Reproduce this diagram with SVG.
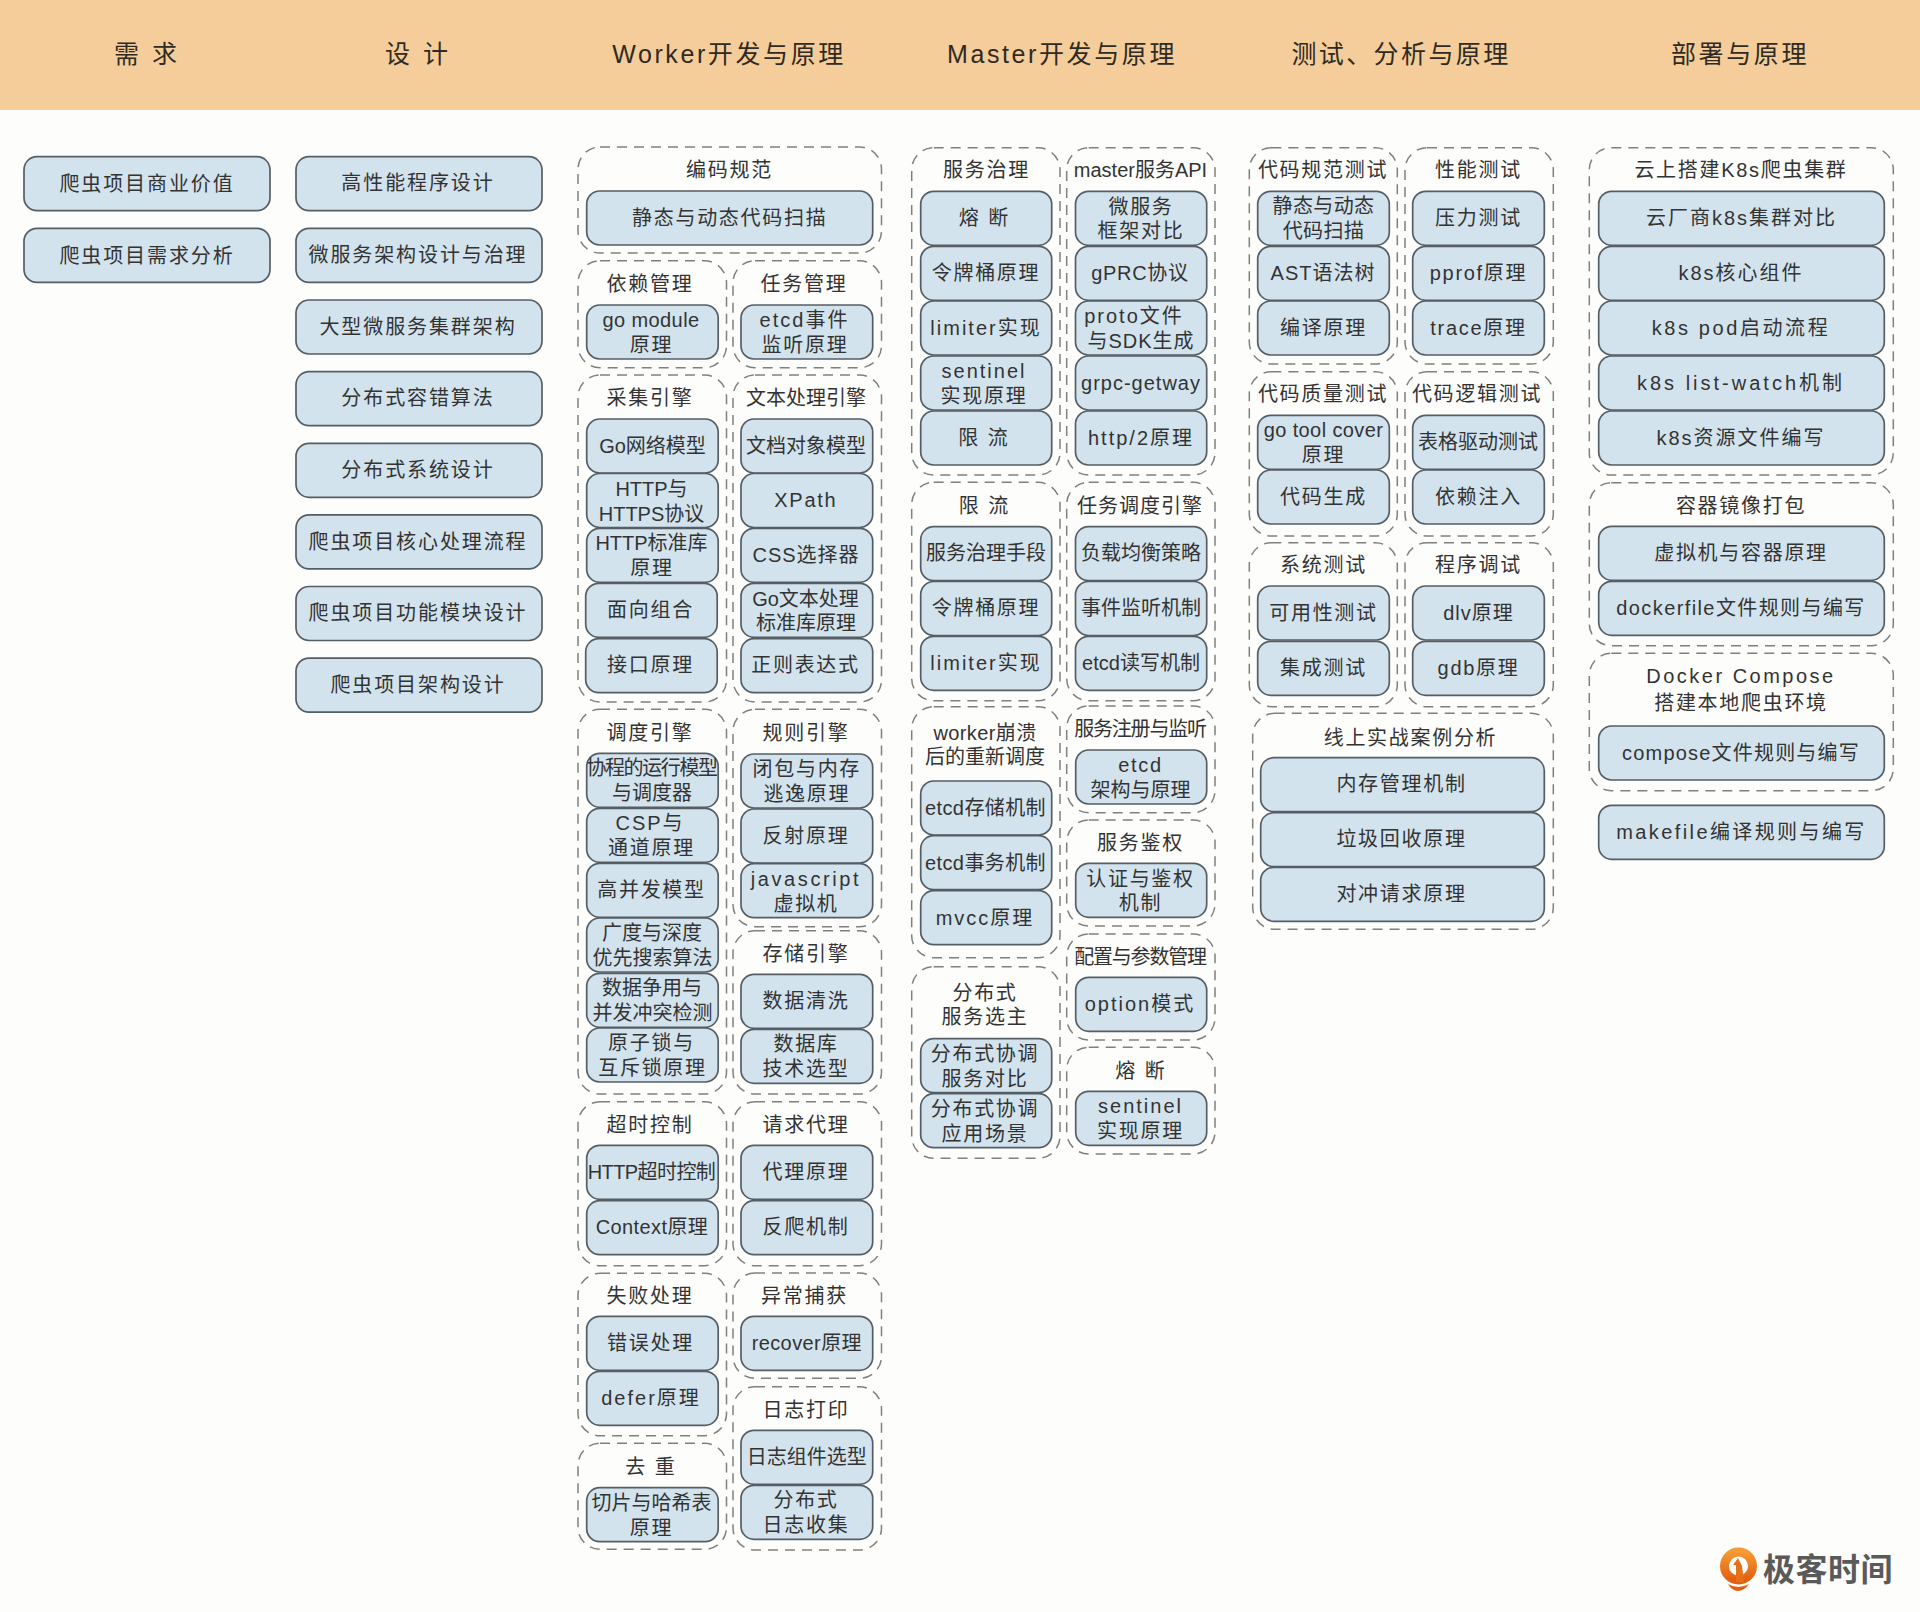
<svg xmlns="http://www.w3.org/2000/svg" width="1920" height="1612" viewBox="0 0 1920 1612">
<style>
.b{fill:#d2e3ee;stroke:#555e64;stroke-width:1.7}
.g{fill:none;stroke:#808080;stroke-width:1.5;stroke-dasharray:10 7}
text{font-family:"Liberation Sans","Noto Sans CJK SC",sans-serif;font-size:20px;fill:#333;text-anchor:middle;letter-spacing:1.7px}
#col-need text,#col-design text{letter-spacing:1.9px}
.h{font-size:25px;letter-spacing:2.6px;fill:#2f2a22}
.n{letter-spacing:0}
.s{letter-spacing:.4px}
.m{letter-spacing:1px}
.w{letter-spacing:2px}
.x{letter-spacing:2.6px}
.c{letter-spacing:-1.2px}
.logo{font-family:"Noto Sans CJK SC",sans-serif;font-size:32px;font-weight:700;fill:#5a5a5a;letter-spacing:.5px}
</style>
<defs>
<linearGradient id="og" x1="0" y1="0" x2="0" y2="1"><stop offset="0" stop-color="#f59a35"/><stop offset="1" stop-color="#e25f10"/></linearGradient>
</defs>
<rect width="1920" height="1612" fill="#fdfdfb"/>
<rect id="header" width="1920" height="110" fill="#f5cd9a"/>
<g id="headers">
<text class="h" x="147" y="63" style="letter-spacing:3px">需 求</text>
<text class="h" x="418" y="63" style="letter-spacing:3px">设 计</text>
<text class="h" x="729" y="63">Worker开发与原理</text>
<text class="h" x="1062" y="63">Master开发与原理</text>
<text class="h" x="1401" y="63" style="letter-spacing:2.4px">测试、分析与原理</text>
<text class="h" x="1740" y="63">部署与原理</text>
</g>

<g id="col-need">
<g id="need1"><rect class="b" x="24" y="156.7" width="246" height="54" rx="13"/><text x="147" y="190.5">爬虫项目商业价值</text></g>
<g id="need2"><rect class="b" x="24" y="228.4" width="246" height="54" rx="13"/><text x="147" y="262.5">爬虫项目需求分析</text></g>
</g>
<g id="col-design">
<g id="des1"><rect class="b" x="296" y="156.7" width="246" height="54" rx="13"/><text x="418" y="190">高性能程序设计</text></g>
<g id="des2"><rect class="b" x="296" y="228.4" width="246" height="54" rx="13"/><text x="418" y="262">微服务架构设计与治理</text></g>
<g id="des3"><rect class="b" x="296" y="300" width="246" height="54" rx="13"/><text x="418" y="333.5">大型微服务集群架构</text></g>
<g id="des4"><rect class="b" x="296" y="371.7" width="246" height="54" rx="13"/><text x="418" y="405">分布式容错算法</text></g>
<g id="des5"><rect class="b" x="296" y="443.3" width="246" height="54" rx="13"/><text x="418" y="477">分布式系统设计</text></g>
<g id="des6"><rect class="b" x="296" y="514.9" width="246" height="54" rx="13"/><text x="418" y="548.5">爬虫项目核心处理流程</text></g>
<g id="des7"><rect class="b" x="296" y="586.5" width="246" height="54" rx="13"/><text x="418" y="620">爬虫项目功能模块设计</text></g>
<g id="des8"><rect class="b" x="296" y="658.1" width="246" height="54" rx="13"/><text x="418" y="691.5">爬虫项目架构设计</text></g>
</g>

<g id="col-worker">
<g id="w-code"><rect class="g" x="578" y="147" width="303.5" height="106" rx="22"/><text x="729.5" y="177">编码规范</text>
<g id="w-code1"><rect class="b" x="586.7" y="191" width="286" height="54" rx="13"/><text x="729.7" y="224.5">静态与动态代码扫描</text></g></g>
<g id="w-dep"><rect class="g" x="578" y="260.7" width="148.5" height="107" rx="22"/><text x="650" y="291">依赖管理</text>
<g id="w-dep1"><rect class="b" x="586.7" y="305" width="131.5" height="54" rx="13"/><text class="s" x="651" y="327">go module</text><text x="651.5" y="352">原理</text></g></g>
<g id="w-task"><rect class="g" x="733" y="260.7" width="148.5" height="107" rx="22"/><text x="804" y="291">任务管理</text>
<g id="w-task1"><rect class="b" x="741" y="305" width="131.7" height="54" rx="13"/><text class="w" x="804.5" y="327">etcd事件</text><text x="805" y="352">监听原理</text></g></g>

<g id="w-collect"><rect class="g" x="578" y="375" width="148.5" height="327" rx="22"/><text x="650" y="405">采集引擎</text>
<g id="w-c1"><rect class="b" x="586.7" y="419" width="131.5" height="54" rx="13"/><text class="n" x="652.5" y="452.5">Go网络模型</text></g>
<g id="w-c2"><rect class="b" x="586.7" y="473.5" width="131.5" height="54" rx="13"/><text class="n" x="651.5" y="495.5">HTTP与</text><text class="n" x="651.5" y="520.5">HTTPS协议</text></g>
<g id="w-c3"><rect class="b" x="586.7" y="528.3" width="131.5" height="54" rx="13"/><text class="n" x="651.5" y="550.3">HTTP标准库</text><text x="652" y="575.3">原理</text></g>
<g id="w-c4"><rect class="b" x="585.7" y="583.3" width="131.5" height="54" rx="13"/><text x="650.5" y="616.8">面向组合</text></g>
<g id="w-c5"><rect class="b" x="585.7" y="638.7" width="131.5" height="54" rx="13"/><text x="650.5" y="672.2">接口原理</text></g></g>
<g id="w-text"><rect class="g" x="733" y="375" width="148.5" height="327" rx="22"/><text class="n" x="806" y="405">文本处理引擎</text>
<g id="w-t1"><rect class="b" x="741" y="419" width="131.7" height="54" rx="13"/><text class="n" x="806" y="452.5">文档对象模型</text></g>
<g id="w-t2"><rect class="b" x="741" y="473.5" width="131.7" height="54" rx="13"/><text x="805.8" y="507">XPath</text></g>
<g id="w-t3"><rect class="b" x="741" y="528.3" width="131.7" height="54" rx="13"/><text class="m" x="806" y="561.8">CSS选择器</text></g>
<g id="w-t4"><rect class="b" x="741" y="583.3" width="131.7" height="54" rx="13"/><text class="n" x="805.5" y="606">Go文本处理</text><text class="n" x="806" y="630.3">标准库原理</text></g>
<g id="w-t5"><rect class="b" x="741" y="638.7" width="131.7" height="54" rx="13"/><text x="805.5" y="672.2">正则表达式</text></g></g>

<g id="w-sched"><rect class="g" x="578" y="709.3" width="148.5" height="384.7" rx="22"/><text x="650" y="739.5">调度引擎</text>
<g id="w-s1"><rect class="b" x="586.7" y="753.3" width="131.5" height="54" rx="13"/><text x="651.5" y="775.3" style="letter-spacing:-1.4px">协程的运行模型</text><text class="n" x="652" y="800.3">与调度器</text></g>
<g id="w-s2"><rect class="b" x="586.7" y="808.3" width="131.5" height="54" rx="13"/><text class="w" x="650" y="830.3">CSP与</text><text x="651.5" y="855.3">通道原理</text></g>
<g id="w-s3"><rect class="b" x="586.7" y="863.3" width="131.5" height="54" rx="13"/><text x="651.5" y="896.8">高并发模型</text></g>
<g id="w-s4"><rect class="b" x="586.7" y="918" width="131.5" height="54" rx="13"/><text class="n" x="652" y="940">广度与深度</text><text class="n" x="652.5" y="965">优先搜索算法</text></g>
<g id="w-s5"><rect class="b" x="586.7" y="973.3" width="131.5" height="54" rx="13"/><text class="n" x="652" y="995.3">数据争用与</text><text class="n" x="652.5" y="1020.3">并发冲突检测</text></g>
<g id="w-s6"><rect class="b" x="586.7" y="1028" width="131.5" height="54" rx="13"/><text x="651.5" y="1050">原子锁与</text><text x="652.5" y="1075">互斥锁原理</text></g></g>
<g id="w-rule"><rect class="g" x="733" y="709.3" width="148.5" height="217.4" rx="22"/><text x="806" y="739.5">规则引擎</text>
<g id="w-r1"><rect class="b" x="741" y="754" width="131.7" height="54" rx="13"/><text x="806.8" y="776">闭包与内存</text><text x="806.8" y="801">逃逸原理</text></g>
<g id="w-r2"><rect class="b" x="741" y="809" width="131.7" height="54" rx="13"/><text x="806" y="842.5">反射原理</text></g>
<g id="w-r3"><rect class="b" x="741" y="863.7" width="131.7" height="54" rx="13"/><text class="x" x="806" y="885.7">javascript</text><text x="806" y="910.7">虚拟机</text></g></g>
<g id="w-store"><rect class="g" x="733" y="930.7" width="148.5" height="163.3" rx="22"/><text x="806" y="960.5">存储引擎</text>
<g id="w-st1"><rect class="b" x="741" y="974.3" width="131.7" height="54" rx="13"/><text x="806" y="1007.8">数据清洗</text></g>
<g id="w-st2"><rect class="b" x="741" y="1029.3" width="131.7" height="54" rx="13"/><text x="806" y="1051.3">数据库</text><text x="806" y="1076.3">技术选型</text></g></g>

<g id="w-timeout"><rect class="g" x="578" y="1101.7" width="148.5" height="164" rx="22"/><text x="650" y="1131.5">超时控制</text>
<g id="w-to1"><rect class="b" x="586.7" y="1145.3" width="131.5" height="54" rx="13"/><text x="651.5" y="1178.8" style="letter-spacing:-.6px">HTTP超时控制</text></g>
<g id="w-to2"><rect class="b" x="586.7" y="1200.7" width="131.5" height="54" rx="13"/><text class="s" x="652" y="1234.2">Context原理</text></g></g>
<g id="w-proxy"><rect class="g" x="733" y="1101.7" width="148.5" height="164" rx="22"/><text x="806" y="1131.5">请求代理</text>
<g id="w-p1"><rect class="b" x="741" y="1145.3" width="131.7" height="54" rx="13"/><text x="806" y="1178.8">代理原理</text></g>
<g id="w-p2"><rect class="b" x="741" y="1200.7" width="131.7" height="54" rx="13"/><text x="806" y="1234.2">反爬机制</text></g></g>

<g id="w-fail"><rect class="g" x="578" y="1273.3" width="148.5" height="162.4" rx="22"/><text x="650" y="1303">失败处理</text>
<g id="w-f1"><rect class="b" x="586.7" y="1316.3" width="131.5" height="54" rx="13"/><text x="650.5" y="1349.8">错误处理</text></g>
<g id="w-f2"><rect class="b" x="586.7" y="1371.3" width="131.5" height="54" rx="13"/><text class="w" x="651" y="1404.8">defer原理</text></g></g>
<g id="w-exc"><rect class="g" x="733" y="1273" width="148.5" height="105.3" rx="22"/><text x="804.5" y="1303">异常捕获</text>
<g id="w-e1"><rect class="b" x="741" y="1316.3" width="131.7" height="54" rx="13"/><text class="s" x="806.8" y="1349.8">recover原理</text></g></g>
<g id="w-dedup"><rect class="g" x="578" y="1443.3" width="148.5" height="106" rx="22"/><text x="651" y="1473.5" style="letter-spacing:2px">去 重</text>
<g id="w-d1"><rect class="b" x="586.7" y="1487.7" width="131.5" height="54" rx="13"/><text class="n" x="651.5" y="1509.7">切片与哈希表</text><text x="651.5" y="1534.7">原理</text></g></g>
<g id="w-log"><rect class="g" x="733" y="1386.7" width="148.5" height="163.3" rx="22"/><text x="806" y="1416.5">日志打印</text>
<g id="w-l1"><rect class="b" x="741" y="1430.3" width="131.7" height="54" rx="13"/><text class="n" x="806.8" y="1463.8">日志组件选型</text></g>
<g id="w-l2"><rect class="b" x="741" y="1485.3" width="131.7" height="54" rx="13"/><text x="806" y="1507.3">分布式</text><text x="806" y="1532.3">日志收集</text></g></g>
</g>

<g id="col-master">
<g id="m-gov"><rect class="g" x="911.7" y="147.7" width="148.3" height="327.3" rx="22"/><text x="986.5" y="177">服务治理</text>
<g id="m-g1"><rect class="b" x="920.7" y="191.3" width="131" height="54" rx="13"/><text x="984.5" y="224.8" style="letter-spacing:2px">熔 断</text></g>
<g id="m-g2"><rect class="b" x="920.7" y="246.3" width="131" height="54" rx="13"/><text x="986" y="279.8">令牌桶原理</text></g>
<g id="m-g3"><rect class="b" x="920.7" y="301" width="131" height="54" rx="13"/><text class="w" x="986" y="334.5">limiter实现</text></g>
<g id="m-g4"><rect class="b" x="920.7" y="356" width="131" height="54" rx="13"/><text class="w" x="984" y="378">sentinel</text><text x="984" y="403">实现原理</text></g>
<g id="m-g5"><rect class="b" x="920.7" y="411" width="131" height="54" rx="13"/><text x="984" y="444.5" style="letter-spacing:2px">限 流</text></g></g>
<g id="m-api"><rect class="g" x="1066.7" y="147.7" width="148.3" height="327.3" rx="22"/><text class="n" x="1140.5" y="177">master服务API</text>
<g id="m-a1"><rect class="b" x="1075.5" y="191.3" width="131.2" height="54" rx="13"/><text x="1141" y="213.8">微服务</text><text x="1141" y="238.3">框架对比</text></g>
<g id="m-a2"><rect class="b" x="1075.5" y="246.3" width="131.2" height="54" rx="13"/><text class="s" x="1140" y="279.8" style="letter-spacing:.7px">gPRC协议</text></g>
<g id="m-a3"><rect class="b" x="1075.5" y="301" width="131.2" height="54" rx="13"/><text class="w" x="1134" y="323">proto文件</text><text class="m" x="1141" y="348">与SDK生成</text></g>
<g id="m-a4"><rect class="b" x="1075.5" y="356" width="131.2" height="54" rx="13"/><text class="m" x="1141" y="389.5">grpc-getway</text></g>
<g id="m-a5"><rect class="b" x="1075.5" y="411" width="131.2" height="54" rx="13"/><text class="w" x="1141" y="444.5">http/2原理</text></g></g>

<g id="m-limit"><rect class="g" x="911.7" y="482.3" width="148.3" height="218.4" rx="22"/><text x="984.5" y="512.5" style="letter-spacing:2px">限 流</text>
<g id="m-l1"><rect class="b" x="920.7" y="526.7" width="131" height="54" rx="13"/><text class="n" x="986" y="560.2">服务治理手段</text></g>
<g id="m-l2"><rect class="b" x="920.7" y="581.5" width="131" height="54" rx="13"/><text x="986" y="615">令牌桶原理</text></g>
<g id="m-l3"><rect class="b" x="920.7" y="636.3" width="131" height="54" rx="13"/><text class="w" x="986" y="669.8">limiter实现</text></g></g>
<g id="m-sched"><rect class="g" x="1066.7" y="482.3" width="148.3" height="218.4" rx="22"/><text class="m" x="1140" y="512.5">任务调度引擎</text>
<g id="m-s1"><rect class="b" x="1075.5" y="526.7" width="131.2" height="54" rx="13"/><text class="n" x="1141" y="560.2">负载均衡策略</text></g>
<g id="m-s2"><rect class="b" x="1075.5" y="581.5" width="131.2" height="54" rx="13"/><text class="n" x="1141" y="615">事件监听机制</text></g>
<g id="m-s3"><rect class="b" x="1075.5" y="636.3" width="131.2" height="54" rx="13"/><text class="n" x="1141" y="669.8">etcd读写机制</text></g></g>

<g id="m-crash"><rect class="g" x="911.7" y="706.7" width="148.3" height="251" rx="22"/><text x="985" y="739.5" class="s">worker崩溃</text><text class="n" x="985" y="763.5">后的重新调度</text>
<g id="m-c1"><rect class="b" x="920.7" y="781" width="131" height="54" rx="13"/><text class="s" x="985.5" y="815">etcd存储机制</text></g>
<g id="m-c2"><rect class="b" x="920.7" y="835.7" width="131" height="54" rx="13"/><text class="s" x="985.5" y="869.7">etcd事务机制</text></g>
<g id="m-c3"><rect class="b" x="920.7" y="890.7" width="131" height="54" rx="13"/><text class="w" x="985" y="924.7">mvcc原理</text></g></g>
<g id="m-elect"><rect class="g" x="911.7" y="966.7" width="148.3" height="191.6" rx="22"/><text x="985" y="1000">分布式</text><text x="985" y="1024">服务选主</text>
<g id="m-e1"><rect class="b" x="920.7" y="1038.7" width="131" height="54" rx="13"/><text x="985" y="1060.7">分布式协调</text><text x="985" y="1085.7">服务对比</text></g>
<g id="m-e2"><rect class="b" x="920.7" y="1093.7" width="131" height="54" rx="13"/><text x="985" y="1115.7">分布式协调</text><text x="985" y="1140.7">应用场景</text></g></g>
<g id="m-reg"><rect class="g" x="1066.7" y="706" width="148.3" height="106.7" rx="22"/><text class="c" x="1140" y="735.5">服务注册与监听</text>
<g id="m-r1"><rect class="b" x="1075.7" y="750" width="131" height="54" rx="13"/><text x="1140.5" y="772">etcd</text><text class="n" x="1140.5" y="797">架构与原理</text></g></g>
<g id="m-auth"><rect class="g" x="1066.7" y="820" width="148.3" height="106" rx="22"/><text x="1140.5" y="849.5">服务鉴权</text>
<g id="m-au1"><rect class="b" x="1075.7" y="863.3" width="131" height="54" rx="13"/><text x="1140.5" y="886">认证与鉴权</text><text x="1140.5" y="910.3">机制</text></g></g>
<g id="m-conf"><rect class="g" x="1066.7" y="934" width="148.3" height="106" rx="22"/><text class="c" x="1140" y="963.5">配置与参数管理</text>
<g id="m-cf1"><rect class="b" x="1075.7" y="977.3" width="131" height="54" rx="13"/><text class="w" x="1140" y="1011.3">option模式</text></g></g>
<g id="m-fuse"><rect class="g" x="1066.7" y="1047.3" width="148.3" height="106.7" rx="22"/><text x="1141" y="1077.5" style="letter-spacing:2px">熔 断</text>
<g id="m-fu1"><rect class="b" x="1075.7" y="1091.3" width="131" height="54" rx="13"/><text class="w" x="1140.5" y="1113.3">sentinel</text><text x="1140.5" y="1138.3">实现原理</text></g></g>
</g>

<g id="col-test">
<g id="t-std"><rect class="g" x="1249.3" y="147.7" width="148" height="216.3" rx="22"/><text x="1323" y="177">代码规范测试</text>
<g id="t-s1"><rect class="b" x="1257.7" y="191.3" width="131.6" height="54" rx="13"/><text class="n" x="1323.5" y="213.3" style="letter-spacing:.4px">静态与动态</text><text class="n" x="1323.5" y="238.3" style="letter-spacing:.4px">代码扫描</text></g>
<g id="t-s2"><rect class="b" x="1257.7" y="246.3" width="131.6" height="54" rx="13"/><text class="m" x="1323" y="279.8">AST语法树</text></g>
<g id="t-s3"><rect class="b" x="1257.7" y="301" width="131.6" height="54" rx="13"/><text x="1323.5" y="334.5">编译原理</text></g></g>
<g id="t-perf"><rect class="g" x="1405" y="147.7" width="148.3" height="216.3" rx="22"/><text x="1478.5" y="177">性能测试</text>
<g id="t-p1"><rect class="b" x="1412.7" y="191.3" width="131.6" height="54" rx="13"/><text x="1478.5" y="224.8">压力测试</text></g>
<g id="t-p2"><rect class="b" x="1412.7" y="246.3" width="131.6" height="54" rx="13"/><text x="1478.5" y="279.8">pprof原理</text></g>
<g id="t-p3"><rect class="b" x="1412.7" y="301" width="131.6" height="54" rx="13"/><text x="1478.5" y="334.5">trace原理</text></g></g>
<g id="t-qual"><rect class="g" x="1249.3" y="371.7" width="148" height="164.3" rx="22"/><text x="1323" y="400.5">代码质量测试</text>
<g id="t-q1"><rect class="b" x="1257.7" y="415.3" width="131.6" height="54" rx="13"/><text class="s" x="1323.5" y="437.3">go tool cover</text><text x="1323.5" y="462.3">原理</text></g>
<g id="t-q2"><rect class="b" x="1257.7" y="470" width="131.6" height="54" rx="13"/><text x="1323.5" y="503.5">代码生成</text></g></g>
<g id="t-logic"><rect class="g" x="1405" y="371.7" width="148.3" height="164.3" rx="22"/><text x="1477" y="400.5">代码逻辑测试</text>
<g id="t-lo1"><rect class="b" x="1412.7" y="415.3" width="131.6" height="54" rx="13"/><text class="n" x="1478" y="448.8">表格驱动测试</text></g>
<g id="t-lo2"><rect class="b" x="1412.7" y="470" width="131.6" height="54" rx="13"/><text x="1478.5" y="503.5">依赖注入</text></g></g>
<g id="t-sys"><rect class="g" x="1249.3" y="542.7" width="148" height="164" rx="22"/><text x="1323.5" y="572">系统测试</text>
<g id="t-sy1"><rect class="b" x="1257.7" y="586" width="131.6" height="54" rx="13"/><text x="1323.5" y="619.5">可用性测试</text></g>
<g id="t-sy2"><rect class="b" x="1257.7" y="641.3" width="131.6" height="54" rx="13"/><text x="1323.5" y="674.8">集成测试</text></g></g>
<g id="t-dbg"><rect class="g" x="1405" y="542.7" width="148.3" height="164" rx="22"/><text x="1478.5" y="572">程序调试</text>
<g id="t-db1"><rect class="b" x="1412.7" y="586" width="131.6" height="54" rx="13"/><text class="m" x="1478.5" y="619.5">dlv原理</text></g>
<g id="t-db2"><rect class="b" x="1412.7" y="641.3" width="131.6" height="54" rx="13"/><text x="1478.5" y="674.8">gdb原理</text></g></g>
<g id="t-online"><rect class="g" x="1252.7" y="713.3" width="300.6" height="216" rx="22"/><text x="1410.5" y="744.5">线上实战案例分析</text>
<g id="t-o1"><rect class="b" x="1260.7" y="757.7" width="283.6" height="54" rx="13"/><text x="1401.5" y="791">内存管理机制</text></g>
<g id="t-o2"><rect class="b" x="1260.7" y="812.7" width="283.6" height="54" rx="13"/><text x="1401.5" y="846">垃圾回收原理</text></g>
<g id="t-o3"><rect class="b" x="1260.7" y="867.3" width="283.6" height="54" rx="13"/><text x="1401.5" y="900.8">对冲请求原理</text></g></g>
</g>

<g id="col-deploy">
<g id="d-k8s"><rect class="g" x="1589.3" y="147.7" width="304" height="327.3" rx="22"/><text x="1741" y="177">云上搭建K8s爬虫集群</text>
<g id="d-k1"><rect class="b" x="1598.7" y="191.3" width="285.6" height="54" rx="13"/><text class="w" x="1741.5" y="224.8">云厂商k8s集群对比</text></g>
<g id="d-k2"><rect class="b" x="1598.7" y="246.3" width="285.6" height="54" rx="13"/><text class="w" x="1741" y="279.8">k8s核心组件</text></g>
<g id="d-k3"><rect class="b" x="1598.7" y="301" width="285.6" height="54" rx="13"/><text class="x" x="1741" y="334.5">k8s pod启动流程</text></g>
<g id="d-k4"><rect class="b" x="1598.7" y="356" width="285.6" height="54" rx="13"/><text x="1741" y="389.5" style="letter-spacing:3px">k8s list-watch机制</text></g>
<g id="d-k5"><rect class="b" x="1598.7" y="411" width="285.6" height="54" rx="13"/><text class="w" x="1741" y="444.5">k8s资源文件编写</text></g></g>
<g id="d-img"><rect class="g" x="1589.3" y="482.7" width="304" height="163" rx="22"/><text x="1741" y="512.5">容器镜像打包</text>
<g id="d-i1"><rect class="b" x="1598.7" y="526.3" width="285.6" height="54" rx="13"/><text x="1741" y="559.8">虚拟机与容器原理</text></g>
<g id="d-i2"><rect class="b" x="1598.7" y="581.3" width="285.6" height="54" rx="13"/><text x="1741" y="614.8" style="letter-spacing:1.4px">dockerfile文件规则与编写</text></g></g>
<g id="d-comp"><rect class="g" x="1589.3" y="653.3" width="304" height="137.4" rx="22"/><text x="1741" y="683" style="letter-spacing:2.5px">Docker Compose</text><text x="1741" y="709.5">搭建本地爬虫环境</text>
<g id="d-c1"><rect class="b" x="1598.7" y="726" width="285.6" height="54" rx="13"/><text x="1741" y="759.5" style="letter-spacing:1.2px">compose文件规则与编写</text></g></g>
<g id="d-make"><rect class="b" x="1598.7" y="805.3" width="285.6" height="54" rx="13"/><text x="1741.5" y="838.8" style="letter-spacing:2.4px">makefile编译规则与编写</text></g>
</g>

<g id="logo">
<circle cx="1738.5" cy="1566" r="14" fill="none" stroke="url(#og)" stroke-width="9"/>
<path d="M1738 1558 L1733 1565 L1736 1565 L1736 1582 L1744 1582 L1742 1566 Z" fill="#e8701a"/>
<path d="M1728 1584 Q1738 1590 1749 1584 Q1744 1591 1738 1591 Q1732 1591 1728 1584 Z" fill="#e25f10"/>
<text class="logo" x="1828" y="1581">极客时间</text>
</g>
</svg>
